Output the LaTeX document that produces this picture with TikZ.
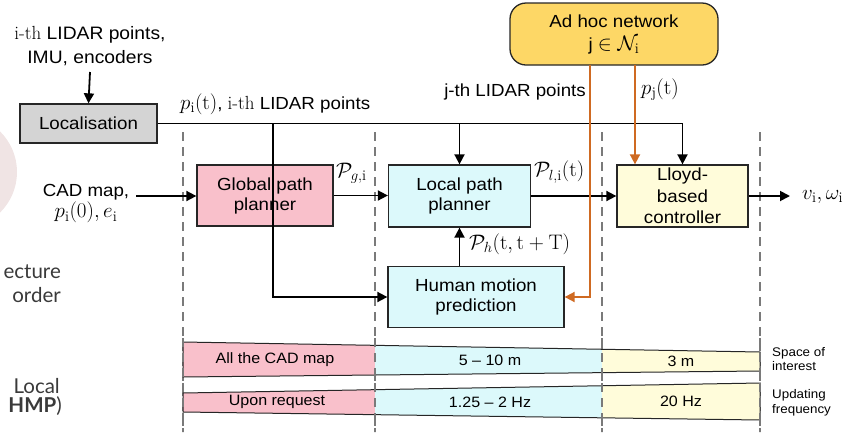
\RequirePackage{fix-cm}
\documentclass[tikz,border=0pt]{standalone}
\usepackage{fontspec}
\newfontfamily\hv[FakeStretch=1.07]{Liberation Sans}
\newfontfamily\lato{Lato}
\usetikzlibrary{arrows.meta}
\definecolor{pinkfill}{HTML}{F9C0CB}
\definecolor{cyanfill}{HTML}{DCF9FB}
\definecolor{yelfill}{HTML}{FFFCDA}
\definecolor{goldfill}{HTML}{FDD766}
\definecolor{grayfill}{HTML}{D4D4D4}
\definecolor{orangeline}{HTML}{CF6A22}
\definecolor{dashgray}{HTML}{7A7A7A}
\definecolor{faintpink}{HTML}{F0E4E4}
\definecolor{sidegray}{HTML}{3A3A3A}
% formulas are set a little larger than the surrounding sans text
\newcommand\mth[1]{{\fontsize{21}{22}\selectfont$#1$}}
\newcommand\ith{{\rmfamily\fontsize{19}{20}\selectfont i-th}}
\tikzset{
  blk/.style={draw=black!85, line width=1.3pt, inner sep=0pt, align=center,
    font=\hv\fontsize{17.5}{20}\selectfont},
  conn/.style={line width=1.8pt, -{Triangle[length=10pt,width=10pt]}},
  oconn/.style={conn, draw=orangeline},
  lab/.style={font=\hv\fontsize{17.5}{20}\selectfont, inner sep=0pt, align=center},
  dashline/.style={draw=dashgray, line width=1.5pt, dash pattern=on 9pt off 6pt},
  barline/.style={draw=black!85, line width=1pt},
  bartext/.style={font=\hv\fontsize{15}{18}\selectfont, inner sep=0pt},
  sidetext/.style={font=\hv\fontsize{12.5}{14.5}\selectfont, align=left, anchor=west, inner sep=0pt},
  frag/.style={font=\lato\fontsize{20.5}{24}\selectfont, text=sidegray, anchor=base east, inner sep=0pt},
}
\begin{document}
\begin{tikzpicture}[x=1pt,y=-1pt]
\useasboundingbox (0,0) rectangle (852,432);

% faint decoration and text fragments at the left edge
\fill[faintpink] (-40,172) circle[radius=57pt];
\node[frag] (fragA) at (61,278) {ecture};
\node[frag] (fragB) at (61,302) {order};
\node[frag] (fragC) at (60,393) {Local};
\node[frag] (fragD) at (62,412) {\textbf{HMP})};

% stage separators
\foreach \xx in {183,375,602,760}
  \draw[dashline] (\xx,132) -- (\xx,432);

% blocks
\node[blk, fill=grayfill, minimum width=137pt, minimum height=39pt] (loc) at (88.5,123.5) {Localisation};
\node[blk, fill=pinkfill, minimum width=136pt, minimum height=61pt] (gpp) at (265,195.5) {Global path\\planner};
\node[blk, fill=cyanfill, minimum width=142pt, minimum height=62pt] (lpp) at (459.5,196) {Local path\\planner};
\node[blk, fill=yelfill, minimum width=131pt, minimum height=62pt, font=\hv\fontsize{17.5}{21.5}\selectfont] (lloyd) at (682.5,196) {Lloyd-\\based\\controller};
\node[blk, fill=cyanfill, minimum width=176pt, minimum height=61pt] (hmp) at (476,297) {Human motion\\prediction};
\node[blk, fill=goldfill, rounded corners=16pt, minimum width=208pt, minimum height=62pt] (adhoc) at (614,34) {Ad hoc network\\[3pt]j \mth{\in\mathcal{N}_{\mathrm{i}}}};

% inputs and labels
\node[lab, font=\hv\fontsize{18}{24}\selectfont] (inp) at (90,46) {\ith{} LIDAR points,\\IMU, encoders};
\node[lab] (cad) at (86,204) {CAD map,\\[1pt]\mth{p_{\mathrm{i}}(0), e_{\mathrm{i}}}};
\node[lab, anchor=west] (ploc) at (180,104) {\mth{p_{\mathrm{i}}(\mathrm{t})}, \ith{} LIDAR points};
\node[lab, anchor=east] (jlid) at (586,92) {j-th LIDAR points};
\node[lab, anchor=west] (pj) at (641,90) {\mth{p_{\mathrm{j}}(\mathrm{t})}};
\node[lab, anchor=west] (pg) at (336,173) {\mth{\mathcal{P}_{g,\mathrm{i}}}};
\node[lab, anchor=west] (pl) at (534,172) {\mth{\mathcal{P}_{l,\mathrm{i}}(\mathrm{t})}};
\node[lab, anchor=west] (ph) at (469,244) {\mth{\mathcal{P}_{h}(\mathrm{t},\mathrm{t}+\mathrm{T})}};
\node[lab, anchor=west] (out) at (802,197) {\mth{v_{\mathrm{i}}, \omega_{\mathrm{i}}}};

% connector end points
\coordinate (inpEnd) at (90,72);
\coordinate (cadEnd) at (136,196);
\coordinate (jGlob) at (273,123.5);
\coordinate (outEnd) at (790,196);
\coordinate (o1) at (590,65);
\coordinate (o2) at (635,65);

% black connectors
\draw[conn] (inpEnd) -- (loc.north);
\draw[conn] (loc.east) -| (lloyd.north);
\draw[conn] (loc.east -| lpp.north) -- (lpp.north);
\draw[conn] (jGlob) |- (hmp.west);
\draw[conn] (cadEnd) -- (cadEnd -| gpp.west);
\draw[conn] (gpp.east) -- (gpp.east -| lpp.west);
\draw[conn] (lpp.east) -- (lpp.east -| lloyd.west);
\draw[conn] (lloyd.east) -- (outEnd);
\draw[conn] (hmp.north -| lpp.south) -- (lpp.south);

% ad hoc network links
\draw[oconn] (o1) |- (hmp.east);
\draw[oconn] (o2) -- (o2 |- lloyd.north);

% space of interest bar
\fill[pinkfill] (183,342) -- (375,345.3) -- (375,375) -- (183,377) -- cycle;
\fill[cyanfill] (375,345.3) -- (602,349.3) -- (602,372.6) -- (375,375) -- cycle;
\fill[yelfill] (602,349.3) -- (760,352) -- (760,371) -- (602,372.6) -- cycle;
\draw[barline] (183,342) -- (760,352) -- (760,371) -- (183,377) -- cycle;
% updating frequency bar
\fill[pinkfill] (183,393) -- (375,389.7) -- (375,414.7) -- (183,412) -- cycle;
\fill[cyanfill] (375,389.7) -- (602,385.7) -- (602,417.8) -- (375,414.7) -- cycle;
\fill[yelfill] (602,385.7) -- (760,383) -- (760,420) -- (602,417.8) -- cycle;
\draw[barline] (183,393) -- (760,383) -- (760,420) -- (183,412) -- cycle;
% separators over the bars
\foreach \xx in {183,375,602,760}
  \draw[dashline] (\xx,338) -- (\xx,432);

\node[bartext] (b1) at (275,360) {All the CAD map};
\node[bartext] (b2) at (490,360.5) {5 – 10 m};
\node[bartext] (b3) at (681,361) {3 m};
\node[bartext] (b4) at (277,402.3) {Upon request};
\node[bartext] (b5) at (490,402) {1.25 – 2 Hz};
\node[bartext] (b6) at (681,401.6) {20 Hz};
\node[sidetext] (s1) at (772,359) {Space of\\interest};
\node[sidetext] (s2) at (772,403) {Updating\\frequency};
\end{tikzpicture}
\end{document}
